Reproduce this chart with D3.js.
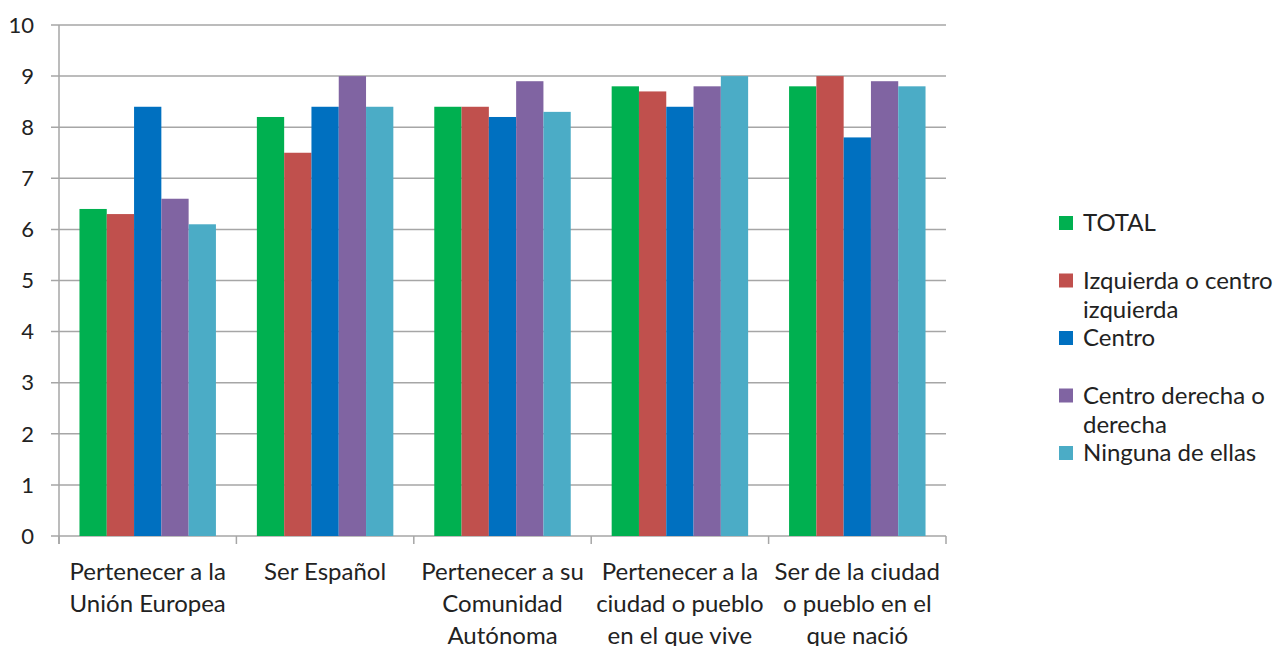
<!DOCTYPE html>
<html>
<head>
<meta charset="utf-8">
<script src="https://cdn.jsdelivr.net/npm/d3@7"></script>
<style>
  body { margin: 0; background: #fff; }
  svg { display: block; font-family: "Lato", "Open Sans", sans-serif; }
</style>
</head>
<body>
<div id="chart"></div>
<script>
// Categories (x axis), split into lines as in the original
var categories = [
    ["Pertenecer a la", "Unión Europea"],
    ["Ser Español"],
    ["Pertenecer a su", "Comunidad", "Autónoma"],
    ["Pertenecer a la", "ciudad o pueblo", "en el que vive"],
    ["Ser de la ciudad", "o pueblo en el", "que nació"]
];
var seriesNames = ["TOTAL", "Izquierda o centro izquierda", "Centro", "Centro derecha o derecha", "Ninguna de ellas"];
var legendLines = [["TOTAL"], ["Izquierda o centro", "izquierda"], ["Centro"], ["Centro derecha o", "derecha"], ["Ninguna de ellas"]];
var seriesColors = ["#00b050", "#c0504d", "#0070c0", "#8064a2", "#4bacc6"];

// values per series, one per category
var total     = [6.4, 8.2, 8.4, 8.8, 8.8];
var izquierda = [6.3, 7.5, 8.4, 8.7, 9.0];
var centro    = [8.4, 8.4, 8.2, 8.4, 7.8];
var derecha   = [6.6, 9.0, 8.9, 8.8, 8.9];
var ninguna   = [6.1, 8.4, 8.3, 9.0, 8.8];
var seriesValues = [total, izquierda, centro, derecha, ninguna];

var yTicks = [0, 1, 2, 3, 4, 5, 6, 7, 8, 9, 10];

var width = 1288, height = 646;
var plot = { left: 59, right: 946, top: 25, bottom: 536 };

var svg = d3.select("#chart").append("svg")
    .attr("width", width)
    .attr("height", height);

var x0 = d3.scaleBand()
    .domain(d3.range(categories.length))
    .range([plot.left, plot.right]);

var x1 = d3.scaleBand()
    .domain(d3.range(seriesNames.length))
    .range([0, x0.bandwidth()])
    .paddingOuter(0.75)
    .paddingInner(0);

var y = d3.scaleLinear()
    .domain([0, 10])
    .range([plot.bottom, plot.top]);

// gridlines
svg.append("g")
    .selectAll("line")
    .data(yTicks)
    .join("line")
    .attr("x1", plot.left - 8)
    .attr("x2", plot.right)
    .attr("y1", d => y(d))
    .attr("y2", d => y(d))
    .attr("stroke", "#a6a6a6")
    .attr("stroke-width", 1.5);

// y tick labels
svg.append("g")
    .selectAll("text")
    .data(yTicks)
    .join("text")
    .attr("x", 34)
    .attr("y", d => y(d))
    .attr("dy", "0.35em")
    .attr("text-anchor", "end")
    .attr("font-size", 22)
    .attr("fill", "#222")
    .text(d => d);

// bars
var groups = svg.append("g")
    .selectAll("g")
    .data(categories.map((c, i) => i))
    .join("g")
    .attr("transform", i => "translate(" + x0(i) + ",0)");

groups.selectAll("rect")
    .data(i => seriesValues.map((vals, s) => ({ s: s, v: vals[i] })))
    .join("rect")
    .attr("x", d => x1(d.s))
    .attr("width", x1.bandwidth())
    .attr("y", d => y(d.v))
    .attr("height", d => y(0) - y(d.v))
    .attr("fill", d => seriesColors[d.s]);

// y axis line
svg.append("line")
    .attr("x1", plot.left).attr("x2", plot.left)
    .attr("y1", plot.top).attr("y2", plot.bottom + 8)
    .attr("stroke", "#a6a6a6")
    .attr("stroke-width", 1.5);

// x category tick marks
svg.append("g")
    .selectAll("line")
    .data(d3.range(categories.length + 1))
    .join("line")
    .attr("x1", i => plot.left + i * x0.step())
    .attr("x2", i => plot.left + i * x0.step())
    .attr("y1", plot.bottom)
    .attr("y2", plot.bottom + 8)
    .attr("stroke", "#a6a6a6")
    .attr("stroke-width", 1.5);

// category labels
svg.append("g")
    .selectAll("text")
    .data(categories)
    .join("text")
    .attr("x", (d, i) => x0(i) + x0.bandwidth() / 2)
    .attr("y", 572)
    .attr("text-anchor", "middle")
    .attr("font-size", 24)
    .attr("fill", "#222")
    .each(function (lines) {
        var t = d3.select(this);
        lines.forEach(function (line, k) {
            t.append("tspan")
                .attr("x", t.attr("x"))
                .attr("dy", k === 0 ? "0.35em" : 32)
                .text(line);
        });
    });

// legend
var legend = svg.append("g")
    .attr("transform", "translate(1059,223)");

var items = legend.selectAll("g")
    .data(legendLines)
    .join("g")
    .attr("transform", (d, i) => "translate(0," + (i * 57.5) + ")");

items.append("rect")
    .attr("x", 0)
    .attr("y", -7)
    .attr("width", 14)
    .attr("height", 14)
    .attr("fill", (d, i) => seriesColors[i]);

items.append("text")
    .attr("x", 24)
    .attr("y", 0)
    .attr("font-size", 24)
    .attr("fill", "#222")
    .each(function (lines) {
        var t = d3.select(this);
        lines.forEach(function (line, k) {
            t.append("tspan")
                .attr("x", 24)
                .attr("dy", k === 0 ? "0.35em" : 29)
                .text(line);
        });
    });
</script>
</body>
</html>
